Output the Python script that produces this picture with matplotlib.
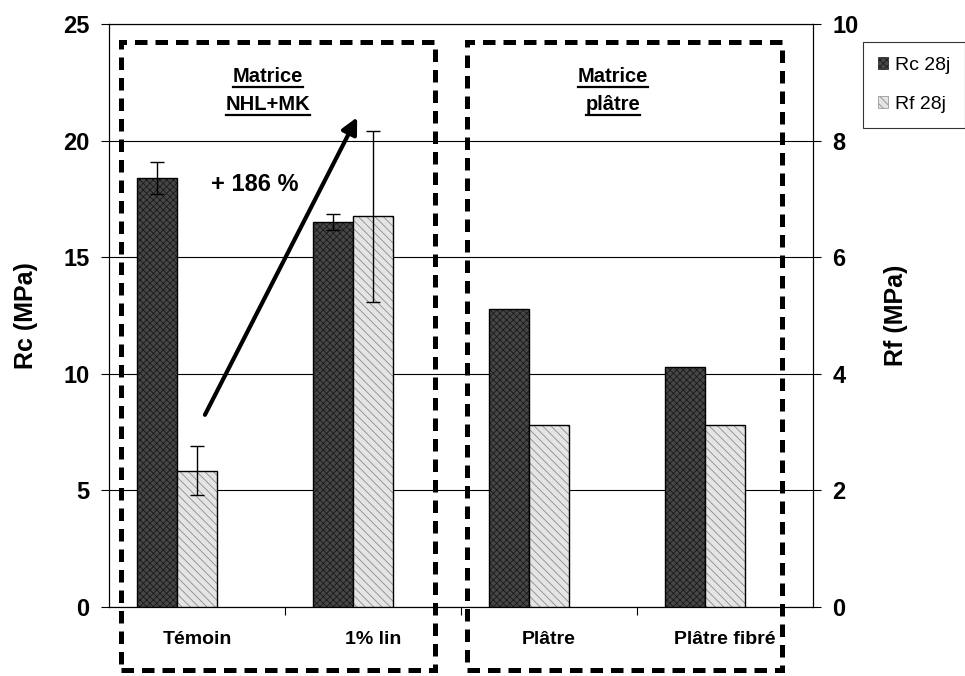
import numpy as np
import matplotlib
matplotlib.use('Agg')
import matplotlib.pyplot as plt
from matplotlib.patches import Rectangle, Patch
from matplotlib.lines import Line2D

# values
categories = ['Témoin', '1% lin', 'Plâtre', 'Plâtre fibré']
rc_28j = [18.4, 16.5, 12.8, 10.3]
rc_err = [0.7, 0.35, 0, 0]
rf_28j = [2.34, 6.7, 3.12, 3.13]
rf_err = [0.42, 1.46, 0, 0]

plt.rcParams['font.family'] = ['Liberation Sans', 'DejaVu Sans']
plt.rcParams['hatch.linewidth'] = 0.6

fig = plt.figure(figsize=(9.65, 6.76), dpi=100)
ax = fig.add_axes([109/965, 1 - 607/676, (813 - 109)/965, (607 - 24)/676])
ax2 = ax.twinx()

x = np.arange(len(categories))
w = 0.227  # three slots per category in the original, third one empty

# Rc bars: dark textured, Rf bars: light textured
rc_face, rc_hatch = '#464646', '#1a1a1a'
rf_face, rf_hatch = '#e4e4e4', '#8c8c8c'

ax.bar(x - w, rc_28j, w, color=rc_face, edgecolor=rc_hatch, hatch='xxxxx', linewidth=0, zorder=3)
ax.bar(x - w, rc_28j, w, fill=False, edgecolor='black', linewidth=1, zorder=4)
ax2.bar(x, rf_28j, w, color=rf_face, edgecolor=rf_hatch, hatch='\\\\\\\\', linewidth=0, zorder=3)
ax2.bar(x, rf_28j, w, fill=False, edgecolor='black', linewidth=1, zorder=4)

ax.errorbar(x[:2] - w, rc_28j[:2], yerr=rc_err[:2], fmt='none', ecolor='black',
            elinewidth=1, capsize=5, capthick=1, zorder=5)
ax2.errorbar(x[:2], rf_28j[:2], yerr=rf_err[:2], fmt='none', ecolor='black',
             elinewidth=1, capsize=5, capthick=1, zorder=5)

ax.set_xlim(-0.5, len(categories) - 0.5)
ax.set_ylim(0, 25)
ax2.set_ylim(0, 10)
ax.set_yticks([0, 5, 10, 15, 20, 25])
ax2.set_yticks([0, 2, 4, 6, 8, 10])
ax.yaxis.grid(True, color='black', linewidth=0.8)
ax.set_axisbelow(True)

ax.set_xticks(x)
ax.set_xticklabels(categories, fontsize=14, fontweight='bold')
ax.set_xticks(np.arange(0.5, len(categories) - 1, 1), minor=True)
ax.tick_params(axis='x', which='major', length=0, pad=17)
ax.tick_params(axis='x', which='minor', length=6, direction='out', width=0.8)
ax.tick_params(axis='y', length=6, width=0.8, pad=8, labelsize=17)
ax2.tick_params(axis='y', length=6, width=0.8, pad=8, labelsize=17)
for lab in ax.get_yticklabels() + ax2.get_yticklabels():
    lab.set_fontweight('bold')

for a in (ax, ax2):
    for s in a.spines.values():
        s.set_linewidth(0.8)

ax.set_ylabel('Rc (MPa)', fontsize=18, fontweight='bold', labelpad=18)
ax2.set_ylabel('Rf (MPa)', fontsize=18, fontweight='bold', labelpad=18)

# dashed group boxes (figure coords, they run past the axes)
for x0, x1 in [(121, 435), (467, 782)]:
    fig.patches.append(Rectangle((x0/965, 1 - 670/676), (x1 - x0)/965, (670 - 42)/676,
                                 transform=fig.transFigure, fill=False, edgecolor='black',
                                 linewidth=3.6, linestyle=(0, (2.5, 1.6)), zorder=10))

# group titles, underlined
titles = [(268/965, ['Matrice', 'NHL+MK']), (613/965, ['Matrice', 'plâtre'])]
title_texts = []
for tx, lines in titles:
    for i, line in enumerate(lines):
        t = fig.text(tx, 1 - (76 + 28*i)/676, line, fontsize=14.5, fontweight='bold',
                     ha='center', va='center')
        title_texts.append(t)

ax.text(0.33, 18.1, '+ 186 %', fontsize=17, fontweight='bold', ha='center', va='center', zorder=6)
ax.annotate('', xy=(0.91, 21.0), xytext=(0.045, 8.24),
            arrowprops=dict(arrowstyle='-|>', color='black', lw=3, mutation_scale=24,
                            shrinkA=0, shrinkB=0), zorder=6)

handles = [Patch(facecolor=rc_face, edgecolor=rc_hatch, hatch='xxxxx', linewidth=0.5),
           Patch(facecolor=rf_face, edgecolor=rf_hatch, hatch='\\\\\\\\', linewidth=0.5)]
leg = fig.legend(handles, ['Rc 28j', 'Rf 28j'], loc='upper left',
                 bbox_to_anchor=(863/965, 1 - 42/676), fontsize=14, frameon=True,
                 fancybox=False, handlelength=0.55, handleheight=0.55, handletextpad=0.35,
                 labelspacing=1.15, borderpad=0.75, borderaxespad=0)
leg.get_frame().set_edgecolor('black')
leg.get_frame().set_linewidth(0.8)

fig.canvas.draw()
r = fig.canvas.get_renderer()
for t in title_texts:
    bb = t.get_window_extent(r).transformed(fig.transFigure.inverted())
    fig.lines.append(Line2D([bb.x0, bb.x1], [bb.y0 - 0.002, bb.y0 - 0.002], transform=fig.transFigure,
                            color='black', linewidth=1.6))

fig.savefig('out.png', dpi=100)
